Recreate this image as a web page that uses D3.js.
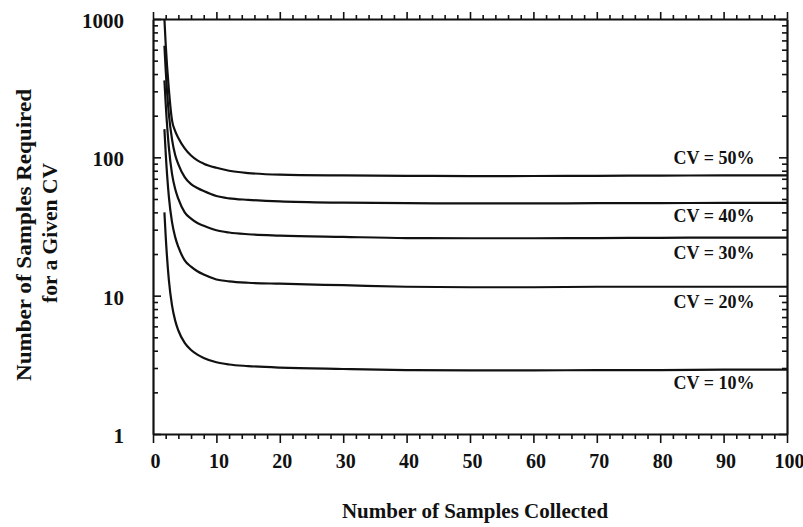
<!DOCTYPE html>
<html>
<head>
<meta charset="utf-8">
<script src="https://cdn.jsdelivr.net/npm/d3@7"></script>
<style>
  body { margin: 0; background: #fff; }
  svg { display: block; }
  text { font-family: "Liberation Serif", "Times New Roman", serif; font-weight: bold; fill: #111; }
</style>
</head>
<body>
<script>
// chart size
var width = 803;
var height = 527;

var samplesCollected = [1.8, 2, 2.5, 3, 3.5, 4, 5, 6, 7, 8, 10, 12, 15, 20, 30, 40, 50, 60, 70, 80, 90, 100];

// samples required for each CV
var cv10 = [40, 27, 13, 8.5, 6.6, 5.6, 4.55, 4.05, 3.75, 3.55, 3.3, 3.18, 3.1, 3.02, 2.95, 2.9, 2.88, 2.88, 2.9, 2.9, 2.92, 2.92];
var cv20 = [160, 108, 52, 34, 26.5, 22.5, 18, 16.2, 15, 14.2, 13.1, 12.7, 12.4, 12.2, 11.9, 11.6, 11.5, 11.5, 11.6, 11.6, 11.6, 11.6];
var cv30 = [360, 245, 118, 76, 59, 50, 40, 36, 33.5, 32, 29.7, 28.6, 27.8, 27.2, 26.6, 26.1, 26.0, 26.0, 26.1, 26.2, 26.3, 26.3];
var cv40 = [640, 430, 205, 135, 104, 89, 72, 64, 60, 57, 52.5, 50.5, 49.3, 48, 47, 46.6, 46.5, 46.5, 46.6, 46.7, 46.8, 46.8];
var cv50 = [1000, 660, 310, 185, 155, 138, 116, 103, 95, 90, 84, 80, 77, 75, 74, 73.5, 73.2, 73.3, 73.5, 73.8, 74, 74];

var seriesLabels = ["CV = 10%", "CV = 20%", "CV = 30%", "CV = 40%", "CV = 50%"];
var seriesValues = [cv10, cv20, cv30, cv40, cv50];

// tick values
var xMajorTicks = [0, 10, 20, 30, 40, 50, 60, 70, 80, 90, 100];
var xMinorTicks = d3.range(0, 101, 2).filter(function(d) { return d % 10 != 0; });
var yMajorTicks = [1, 10, 100, 1000];
var yMinorTicks = [];
[1, 10, 100].forEach(function(p) {
    for (var m = 2; m <= 9; m++) yMinorTicks.push(m * p);
});

// plot box (not called "top": that name is taken by window.top)
var plotLeft = 153, plotRight = 787, plotTop = 19, plotBottom = 434;

var x = d3.scaleLinear().domain([0, 100]).range([plotLeft, plotRight]);
var y = d3.scaleLog().domain([1, 1000]).range([plotBottom, plotTop]);

var svg = d3.select("body")
    .append("svg")
    .attr("width", width)
    .attr("height", height);

svg.append("defs").append("clipPath")
    .attr("id", "plot")
    .append("rect")
    .attr("x", plotLeft).attr("y", plotTop)
    .attr("width", plotRight - plotLeft).attr("height", plotBottom - plotTop);

function styleAxis(g, w) {
    g.selectAll("path").attr("stroke", "#111").attr("stroke-width", w);
    g.selectAll("line").attr("stroke", "#111").attr("stroke-width", 1.6);
}

// bottom axis - ticks outward, labelled
var gBottom = svg.append("g")
    .attr("transform", "translate(0," + plotBottom + ")")
    .call(d3.axisBottom(x).tickValues(xMajorTicks).tickSize(9).tickSizeOuter(0).tickPadding(11).tickFormat(d3.format("d")));
gBottom.selectAll("text").style("font-size", "20px").attr("dx", "2");
styleAxis(gBottom, 2);
var gBottomMinor = svg.append("g")
    .attr("transform", "translate(0," + plotBottom + ")")
    .call(d3.axisBottom(x).tickValues(xMinorTicks).tickSize(5).tickFormat(""));
gBottomMinor.select(".domain").remove();
styleAxis(gBottomMinor, 2);

// top axis - ticks outward, no labels
var gTop = svg.append("g")
    .attr("transform", "translate(0," + plotTop + ")")
    .call(d3.axisTop(x).tickValues(xMajorTicks).tickSize(7).tickSizeOuter(0).tickFormat(""));
styleAxis(gTop, 2);
var gTopMinor = svg.append("g")
    .attr("transform", "translate(0," + plotTop + ")")
    .call(d3.axisTop(x).tickValues(xMinorTicks).tickSize(4).tickFormat(""));
gTopMinor.select(".domain").remove();
styleAxis(gTopMinor, 2);

// left axis - ticks inward, labelled
var gLeft = svg.append("g")
    .attr("transform", "translate(" + plotLeft + ",0)")
    .call(d3.axisLeft(y).tickValues(yMajorTicks).tickSize(-8).tickSizeOuter(0).tickPadding(29).tickFormat(d3.format("d")));
gLeft.selectAll("text").style("font-size", "21px").attr("dy", "0.4em");
styleAxis(gLeft, 2.2);
var gLeftMinor = svg.append("g")
    .attr("transform", "translate(" + plotLeft + ",0)")
    .call(d3.axisLeft(y).tickValues(yMinorTicks).tickSize(-5).tickFormat(""));
gLeftMinor.select(".domain").remove();
styleAxis(gLeftMinor, 2);

// right axis - ticks inward
var gRight = svg.append("g")
    .attr("transform", "translate(" + plotRight + ",0)")
    .call(d3.axisRight(y).tickValues(yMajorTicks).tickSize(-8).tickSizeOuter(0).tickFormat(""));
styleAxis(gRight, 2.2);
var gRightMinor = svg.append("g")
    .attr("transform", "translate(" + plotRight + ",0)")
    .call(d3.axisRight(y).tickValues(yMinorTicks).tickSize(-5).tickFormat(""));
gRightMinor.select(".domain").remove();
styleAxis(gRightMinor, 2);

// curves
var line = d3.line()
    .x(function(d) { return x(d[0]); })
    .y(function(d) { return y(d[1]); })
    .curve(d3.curveMonotoneX);

svg.append("g")
    .attr("clip-path", "url(#plot)")
    .selectAll("path")
    .data(seriesValues)
    .enter()
    .append("path")
    .attr("d", function(vals) {
        return line(samplesCollected.map(function(s, i) { return [s, vals[i]]; }));
    })
    .attr("fill", "none")
    .attr("stroke", "#111")
    .attr("stroke-width", 2.2);

// curve labels, placed under/over the right end of each curve
var labelY = [383, 301.5, 253, 215.5, 158];
svg.selectAll(".cvlabel")
    .data(seriesLabels)
    .enter()
    .append("text")
    .attr("class", "cvlabel")
    .attr("x", 714)
    .attr("y", function(d, i) { return labelY[i]; })
    .attr("text-anchor", "middle")
    .attr("dominant-baseline", "central")
    .style("font-size", "18px")
    .text(function(d) { return d; });

// axis titles
svg.append("text")
    .attr("x", 475)
    .attr("y", 518)
    .attr("text-anchor", "middle")
    .style("font-size", "21px")
    .text("Number of Samples Collected");

svg.append("text")
    .attr("transform", "translate(24,235) rotate(-90)")
    .attr("text-anchor", "middle")
    .attr("dominant-baseline", "central")
    .style("font-size", "21px")
    .attr("textLength", 292)
    .attr("lengthAdjust", "spacingAndGlyphs")
    .text("Number of Samples Required");

svg.append("text")
    .attr("transform", "translate(50,233) rotate(-90)")
    .attr("text-anchor", "middle")
    .attr("dominant-baseline", "central")
    .style("font-size", "21px")
    .attr("textLength", 140)
    .attr("lengthAdjust", "spacingAndGlyphs")
    .text("for a Given CV");
</script>
</body>
</html>
